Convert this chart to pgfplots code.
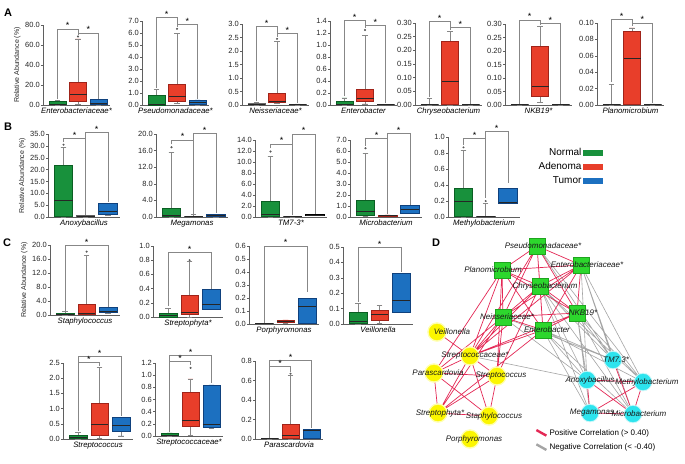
\documentclass[border=0pt]{standalone}
\usepackage{fontspec}
\setmainfont{Liberation Sans}
\usepackage{pgfplots}
\usepackage{pgfplotstable}
\pgfplotsset{compat=1.18}
\usepgfplotslibrary{statistics}
\definecolor{ng}{RGB}{24,145,60}
\definecolor{ngd}{RGB}{10,95,35}
\definecolor{ar}{RGB}{232,62,42}
\definecolor{ard}{RGB}{160,35,25}
\definecolor{bt}{RGB}{28,112,192}
\definecolor{btd}{RGB}{15,65,125}
\definecolor{axg}{RGB}{95,95,95}
\definecolor{wg}{RGB}{135,135,135}
\definecolor{ered}{RGB}{228,40,85}
\definecolor{egray}{RGB}{165,165,165}
\definecolor{sqg}{RGB}{45,215,45}
\definecolor{sqgd}{RGB}{30,165,30}
\definecolor{cyy}{RGB}{252,246,0}
\definecolor{cyyh}{RGB}{255,255,175}
\definecolor{cyc}{RGB}{45,228,238}
\definecolor{cych}{RGB}{200,248,250}

\pgfplotsset{
  panel/.style={scale only axis, anchor=south west, clip=false,
    axis x line=bottom, axis y line=left,
    axis line style={-, axg, line width=0.5pt},
    xmin=0.3, xmax=3.55, ymin=0, xtick=\empty,
    ytick style={axg, line width=0.4pt}, tick align=outside, major tick length=2pt,
    scaled y ticks=false,
    /pgf/number format/assume math mode=true,
    yticklabel style={font=\fontsize{7.5}{8}\selectfont, color=black!85, inner sep=1pt,
      /pgf/number format/.cd, fixed, fixed zerofill, precision=1},
    xlabel style={font=\fontsize{7.8}{9}\selectfont\itshape, at={(axis description cs:0.5,0)}, anchor=north, inner sep=1pt, yshift=-1.5pt},
    ylabel style={font=\fontsize{7}{8}\selectfont, color=black!85},
    boxplot/draw direction=y,
    boxplot/box extend=0.82, boxplot/whisker extend=0.25,
    boxplot/every median/.style={draw=black!85, line width=0.6pt},
    boxplot/every whisker/.style={draw=wg, line width=0.5pt},
  },
  ptwo/.style={yticklabel style={/pgf/number format/precision=2}},
  sN/.style={draw=ngd, fill=ng, line width=0.5pt},
  sA/.style={draw=ard, fill=ar, line width=0.5pt},
  sT/.style={draw=btd, fill=bt, line width=0.5pt},
  sZ/.style={draw=gray!75!black, fill=gray!60, line width=0.5pt},
  sK/.style={draw=black, fill=black, line width=0.5pt},
  br/.style={draw=wg, line width=0.5pt},
}
\newcommand{\bx}[7]{\addplot[#7, boxplot prepared={draw direction=y, draw position=#1, lower whisker=#2, lower quartile=#3, median=#4, upper quartile=#5, upper whisker=#6}] coordinates {};}
\newcommand{\outl}[2]{\addplot[only marks, mark=*, mark size=0.8pt, color=black!65] coordinates {(#1,#2)};}
\newcommand{\sig}[2]{\node[anchor=base, inner sep=0pt, font=\fontsize{9}{9}\selectfont] at (axis cs:#1,#2) {*};}

\pgfplotstableread{
x y
537 246
502 270
581 265
540 286
503 317
577 313
543 330
}\greennodes
\pgfplotstableread{
x y
437 332
470 356
434 373
497 376
438 413
489 416
470 439
}\yellownodes
\pgfplotstableread{
x y
613 360
587 380
643 382
590 413
633 414
}\cyannodes
\pgfplotstableread{
x y dx dy lab
537 246 6 0 Pseudomonadaceae*
502 270 -9 0 Planomicrobium
581 265 6 0 Enterobacteriaceae*
540 286 5 0 Chryseobacterium
503 317 4 0 Neisseriaceae*
577 313 6 0 NKB19*
543 330 4 0 Enterobacter
437 332 15 0 Veillonella
470 356 5 0 Streptococcaceae*
434 373 4 0 Parascardovia
497 376 4 0 Streptococcus
438 413 2 0 Streptophyta*
489 416 5 0 Staphylococcus
470 439 4 0 Porphyromonas
613 360 3 0 TM7.3*
587 380 3 0 Anoxybacillus
643 382 4 0 Methylobacterium
590 413 2 0 Megamonas
633 414 6 0 Microbacterium
}\netlabels

\begin{document}
\begin{tikzpicture}
\useasboundingbox (0,0) rectangle (685pt,-463pt);
\fill[white] (0,0) rectangle (685pt,-463pt);

\node[font=\bfseries\fontsize{11}{11}\selectfont] at (8pt,-13pt) {A};
\node[font=\bfseries\fontsize{11}{11}\selectfont] at (8pt,-127pt) {B};
\node[font=\bfseries\fontsize{11}{11}\selectfont] at (7pt,-243pt) {C};
\node[font=\bfseries\fontsize{11}{11}\selectfont] at (436pt,-243pt) {D};

% ---------------- Row A ----------------
\begin{axis}[panel, at={(43pt,-105pt)}, width=67pt, height=80pt, ymax=80, ytick={0,20,40,60,80},
  xlabel={Enterobacteriaceae*}, ylabel={Relative Abundance (\%)}]
\bx{1}{0}{0.3}{1.0}{3.3}{5.0}{sN}
\bx{2}{0.5}{3.3}{11}{22.5}{66}{sA}
\bx{3}{0}{0.5}{1.5}{6}{6}{sT}
\outl{2}{68.5}
\addplot[br] coordinates {(1,6) (1,76) (2,76) (2,69.5)};
\addplot[br] coordinates {(2,72) (3,72) (3,6.5)};
\sig{1.5}{76}\sig{2.5}{72}
\end{axis}

\begin{axis}[panel, at={(142pt,-105pt)}, width=67pt, height=84pt, ymax=7, ytick={0,1,2,3,4,5,6,7},
  xlabel={Pseudomonadaceae*}]
\bx{1}{0}{0.02}{0.1}{0.85}{1.28}{sN}
\bx{2}{0.15}{0.35}{0.75}{1.75}{6.0}{sA}
\bx{3}{0}{0.05}{0.2}{0.42}{0.42}{sT}
\outl{2}{6.35}
\addplot[br] coordinates {(1,1.45) (1,7.3) (2,7.3) (2,6.5)};
\addplot[br] coordinates {(2,6.75) (3,6.75) (3,0.5)};
\sig{1.5}{7.3}\sig{2.5}{6.75}
\end{axis}

\begin{axis}[panel, at={(242pt,-105pt)}, width=67pt, height=81pt, ymax=3, ytick={0,0.5,1,1.5,2,2.5,3},
  xlabel={Neisseriaceae*}]
\bx{1}{0}{0.02}{0.04}{0.06}{0.1}{sZ}
\bx{2}{0.08}{0.12}{0.15}{0.45}{2.35}{sA}
\bx{3}{0}{0.02}{0.03}{0.04}{0.04}{sZ}
\outl{2}{2.45}
\addplot[br] coordinates {(1,0.15) (1,2.9) (2,2.9) (2,2.5)};
\addplot[br] coordinates {(2,2.65) (3,2.65) (3,0.08)};
\sig{1.5}{2.9}\sig{2.5}{2.65}
\end{axis}

\begin{axis}[panel, at={(330pt,-105pt)}, width=67pt, height=84pt, ymax=1.4, ytick={0,0.2,0.4,0.6,0.8,1.0,1.2,1.4},
  xlabel={Enterobacter}]
\bx{1}{0}{0.005}{0.02}{0.056}{0.12}{sN}
\bx{2}{0.02}{0.07}{0.12}{0.26}{1.16}{sA}
\bx{3}{0}{0.003}{0.006}{0.01}{0.01}{sZ}
\outl{2}{1.25}
\addplot[br] coordinates {(1,0.15) (1,1.41) (2,1.41) (2,1.29)};
\addplot[br] coordinates {(2,1.33) (3,1.33) (3,0.03)};
\sig{1.5}{1.41}\sig{2.5}{1.33}
\end{axis}

\begin{axis}[panel, ptwo, at={(415pt,-105pt)}, width=67pt, height=82pt, ymax=0.3, ytick={0,0.05,0.1,0.15,0.2,0.25,0.3},
  xlabel={Chryseobacterium}]
\bx{1}{0}{0.001}{0.002}{0.003}{0.025}{sZ}
\bx{2}{0}{0.001}{0.085}{0.232}{0.268}{sA}
\bx{3}{0}{0.001}{0.002}{0.003}{0.003}{sZ}
\addplot[br] coordinates {(1,0.03) (1,0.307) (2,0.307) (2,0.275)};
\addplot[br] coordinates {(2,0.283) (3,0.283) (3,0.005)};
\sig{1.5}{0.307}\sig{2.5}{0.283}
\end{axis}

\begin{axis}[panel, ptwo, at={(505pt,-105pt)}, width=67pt, height=81pt, ymax=0.3, ytick={0,0.05,0.1,0.15,0.2,0.25,0.3},
  xlabel={NKB19*}]
\bx{1}{0}{0.001}{0.001}{0.002}{0.002}{sZ}
\bx{2}{0.01}{0.034}{0.069}{0.218}{0.29}{sA}
\bx{3}{0}{0.001}{0.001}{0.002}{0.002}{sZ}
\addplot[br] coordinates {(1,0.005) (1,0.315) (2,0.315) (2,0.297)};
\addplot[br] coordinates {(2,0.3025) (3,0.3025) (3,0.005)};
\sig{1.5}{0.315}\sig{2.5}{0.3025}
\end{axis}

\begin{axis}[panel, ptwo, at={(597pt,-105pt)}, width=67pt, height=82pt, ymax=0.1, ytick={0,0.02,0.04,0.06,0.08,0.1},
  xlabel={Planomicrobium}]
\bx{1}{0}{0.0005}{0.001}{0.0015}{0.0256}{sZ}
\bx{2}{0.001}{0.0015}{0.057}{0.09}{0.094}{sA}
\bx{3}{0}{0.0005}{0.001}{0.0015}{0.0015}{sZ}
\addplot[br] coordinates {(1,0.028) (1,0.1045) (2,0.1045) (2,0.096)};
\addplot[br] coordinates {(2,0.1) (3,0.1) (3,0.002)};
\sig{1.5}{0.1045}\sig{2.5}{0.1}
\end{axis}

% ---------------- Row B ----------------
\begin{axis}[panel, at={(48pt,-217pt)}, width=72pt, height=83pt, ymax=35, ytick={0,5,10,15,20,25,30,35},
  xlabel={Anoxybacillus}, ylabel={Relative Abundance (\%)}]
\bx{1}{0}{0.2}{7}{21.8}{29.5}{sN}
\bx{2}{0}{0.2}{0.4}{0.6}{0.6}{sZ}
\bx{3}{0.8}{1.2}{2.5}{5.8}{5.8}{sT}
\outl{1}{30.5}
\addplot[br] coordinates {(1,31.5) (1,33) (2,33)};
\addplot[br] coordinates {(2,0.8) (2,35.8) (3,35.8) (3,6.5)};
\sig{1.5}{33}\sig{2.5}{35.8}
\end{axis}

\begin{axis}[panel, at={(156pt,-217pt)}, width=72pt, height=83pt, ymax=20, ytick={0,4,8,12,16,20},
  xlabel={Megamonas}]
\bx{1}{0}{0.1}{0.3}{2.0}{15.5}{sN}
\bx{2}{0}{0.05}{0.1}{0.2}{0.6}{sZ}
\bx{3}{0}{0.1}{0.3}{0.7}{0.7}{sT}
\outl{1}{16.8}
\addplot[br] coordinates {(1,17.5) (1,18.6) (2,18.6)};
\addplot[br] coordinates {(2,0.7) (2,20.2) (3,20.2) (3,0.9)};
\sig{1.5}{18.6}\sig{2.5}{20.2}
\end{axis}

\begin{axis}[panel, at={(255pt,-217pt)}, width=72pt, height=77pt, ymax=14, ytick={0,2,4,6,8,10,12,14},
  xlabel={TM7-3*}]
\bx{1}{0}{0.1}{0.42}{2.8}{11.0}{sN}
\bx{2}{0}{0.05}{0.1}{0.15}{0.15}{sZ}
\bx{3}{0.3}{0.35}{0.4}{0.45}{0.45}{sK}
\outl{1}{11.9}
\addplot[br] coordinates {(1,12.5) (1,13.3) (2,13.3)};
\addplot[br] coordinates {(2,0.3) (2,15.1) (3,15.1) (3,0.6)};
\sig{1.5}{13.3}\sig{2.5}{15.1}
\end{axis}

\begin{axis}[panel, at={(350pt,-217pt)}, width=72pt, height=77pt, ymax=7, ytick={0,1,2,3,4,5,6,7},
  xlabel={Microbacterium}]
\bx{1}{0.05}{0.2}{0.54}{1.49}{5.8}{sN}
\bx{2}{0.05}{0.08}{0.12}{0.15}{0.2}{sA}
\bx{3}{0.3}{0.3}{0.74}{1.04}{1.04}{sT}
\outl{1}{6.25}
\addplot[br] coordinates {(1,6.5) (1,7.14) (2,7.14)};
\addplot[br] coordinates {(2,0.25) (2,7.6) (3,7.6) (3,1.1)};
\sig{1.5}{7.14}\sig{2.5}{7.6}
\end{axis}

\begin{axis}[panel, at={(448pt,-217pt)}, width=72pt, height=80pt, ymax=1, ytick={0,0.2,0.4,0.6,0.8,1.0},
  xlabel={Methylobacterium}]
\bx{1}{0}{0.01}{0.197}{0.36}{0.83}{sN}
\bx{2}{0}{0.003}{0.006}{0.01}{0.175}{sZ}
\bx{3}{0.17}{0.17}{0.185}{0.356}{0.356}{sT}
\outl{1}{0.87}\outl{2}{0.2}
\addplot[br] coordinates {(1,0.9) (1,0.98) (2,0.98)};
\addplot[br] coordinates {(2,0.24) (2,1.075) (3,1.075) (3,0.43)};
\sig{1.5}{0.98}\sig{2.5}{1.075}
\end{axis}

% legend of groups
\begin{axis}[hide axis, scale only axis, width=1pt, height=1pt, xmin=0, xmax=1, ymin=0, ymax=1,
  at={(603pt,-146pt)}, anchor=north east,
  legend style={draw=none, fill=none, at={(1,1)}, anchor=north east, inner sep=0pt,
    font=\fontsize{10}{11}\selectfont, row sep=1.3pt},
  legend plot pos=right, legend cell align=right,
  legend image code/.code={\fill[#1] (0pt,-2.6pt) rectangle (19pt,2.6pt);}]
\addlegendimage{color=ng}\addlegendentry{Normal}
\addlegendimage{color=ar}\addlegendentry{Adenoma}
\addlegendimage{color=bt}\addlegendentry{Tumor}
\end{axis}

% ---------------- Row C ----------------
\begin{axis}[panel, at={(50pt,-315pt)}, width=70pt, height=70pt, ymax=20, ytick={0,4,8,12,16,20},
  xlabel={Staphylococcus}, ylabel={Relative Abundance (\%)}]
\bx{1}{0}{0.1}{0.3}{0.5}{0.95}{sN}
\bx{2}{0.1}{0.3}{0.5}{3.1}{17.1}{sA}
\bx{3}{0.5}{0.7}{1.0}{2.2}{2.2}{sT}
\outl{2}{18.1}
\addplot[br] coordinates {(1,1.2) (1,20) (3,20) (3,2.4)};
\sig{2}{20}
\end{axis}

\begin{axis}[panel, at={(153pt,-317pt)}, width=70pt, height=71pt, ymax=1, ytick={0,0.2,0.4,0.6,0.8,1.0},
  xlabel={Streptophyta*}]
\bx{1}{0}{0}{0.02}{0.056}{0.126}{sN}
\bx{2}{0}{0.033}{0.06}{0.304}{0.78}{sA}
\bx{3}{0.103}{0.103}{0.173}{0.39}{0.39}{sT}
\outl{2}{0.8}
\addplot[br] coordinates {(1,0.16) (1,0.907) (3,0.907) (3,0.4)};
\sig{2}{0.907}
\end{axis}

\begin{axis}[panel, at={(249pt,-324pt)}, width=70pt, height=78pt, ymax=0.6, ytick={0,0.1,0.2,0.3,0.4,0.5,0.6},
  xlabel={Porphyromonas}]
\bx{1}{0}{0.001}{0.002}{0.003}{0.003}{sZ}
\bx{2}{0.005}{0.01}{0.02}{0.026}{0.031}{sA}
\bx{3}{0.005}{0.005}{0.133}{0.197}{0.197}{sT}
\addplot[br] coordinates {(1,0.008) (1,0.6) (3,0.6) (3,0.25)};
\sig{2}{0.6}
\end{axis}

\begin{axis}[panel, at={(343pt,-324pt)}, width=70pt, height=77pt, ymax=0.5, ytick={0,0.1,0.2,0.3,0.4,0.5},
  xlabel={Veillonella}]
\bx{1}{0}{0.005}{0.015}{0.075}{0.134}{sN}
\bx{2}{0.005}{0.026}{0.065}{0.09}{0.123}{sA}
\bx{3}{0.075}{0.075}{0.155}{0.328}{0.328}{sT}
\addplot[br] coordinates {(1,0.145) (1,0.5) (3,0.5) (3,0.34)};
\sig{2}{0.5}
\end{axis}

% ---------------- Row C (lower) ----------------
\begin{axis}[panel, at={(63pt,-439pt)}, width=70pt, height=76pt, ymax=2.5, ytick={0,0.5,1,1.5,2,2.5},
  xlabel={Streptococcus}]
\bx{1}{0}{0.01}{0.04}{0.11}{0.21}{sN}
\bx{2}{0.02}{0.13}{0.5}{1.16}{2.36}{sA}
\bx{3}{0.1}{0.26}{0.46}{0.7}{0.7}{sT}
\addplot[br] coordinates {(1,0.25) (1,2.72) (3,2.72) (3,0.75)};
\addplot[br] coordinates {(1,2.52) (2,2.52) (2,2.4)};
\sig{2}{2.72}\sig{1.5}{2.52}
\end{axis}

\begin{axis}[panel, at={(155pt,-436pt)}, width=68pt, height=73pt, ymax=1.2, ytick={0,0.2,0.4,0.6,0.8,1.0,1.2},
  xlabel={Streptococcaceae*}]
\bx{1}{0}{0.005}{0.01}{0.038}{0.05}{sN}
\bx{2}{0.01}{0.164}{0.257}{0.72}{0.94}{sA}
\bx{3}{0.12}{0.137}{0.186}{0.84}{0.84}{sT}
\outl{2}{1.12}
\addplot[br] coordinates {(1,0.06) (1,1.33) (3,1.33) (3,0.87)};
\addplot[br] coordinates {(1,1.23) (2,1.23) (2,1.16)};
\sig{2}{1.33}\sig{1.5}{1.23}
\end{axis}

\begin{axis}[panel, at={(255pt,-439pt)}, width=68pt, height=78pt, ymax=0.8, ytick={0,0.2,0.4,0.6,0.8},
  xlabel={Parascardovia}]
\bx{1}{0}{0.003}{0.005}{0.007}{0.007}{sZ}
\bx{2}{0}{0.01}{0.034}{0.153}{0.653}{sA}
\bx{3}{0.01}{0.01}{0.085}{0.099}{0.099}{sT}
\outl{2}{0.67}
\addplot[br] coordinates {(1,0.01) (1,0.81) (3,0.81) (3,0.11)};
\addplot[br] coordinates {(1,0.745) (2,0.745) (2,0.69)};
\sig{2}{0.81}\sig{1.5}{0.745}
\end{axis}

% ---------------- Panel D: network ----------------
\begin{axis}[scale only axis, anchor=south west, at={(420pt,-463pt)}, width=270pt, height=228pt,
  xmin=420, xmax=690, ymin=235, ymax=463, y dir=reverse, hide axis, clip=false]
\addplot[egray, line width=0.6pt, unbounded coords=jump] coordinates {
(581,265)(613,360)(nan,nan) (581,265)(643,382)(nan,nan) (581,265)(633,414)(nan,nan) (581,265)(587,380)(nan,nan)
(540,286)(613,360)(nan,nan) (540,286)(587,380)(nan,nan) (540,286)(643,382)(nan,nan) (540,286)(633,414)(nan,nan)
(540,286)(590,413)(nan,nan) (577,313)(613,360)(nan,nan) (577,313)(587,380)(nan,nan) (577,313)(643,382)(nan,nan)
(577,313)(590,413)(nan,nan) (577,313)(633,414)(nan,nan) (543,330)(613,360)(nan,nan) (543,330)(587,380)(nan,nan)
(543,330)(643,382)(nan,nan) (543,330)(590,413)(nan,nan) (543,330)(633,414)(nan,nan) (503,317)(613,360)(nan,nan)
(503,317)(587,380)(nan,nan) (537,246)(643,382)(nan,nan) (537,246)(613,360)(nan,nan) (470,356)(587,380)(nan,nan)
};
\addplot[ered, line width=0.7pt, unbounded coords=jump] coordinates {
(537,246)(502,270)(nan,nan) (537,246)(581,265)(nan,nan) (537,246)(540,286)(nan,nan) (537,246)(503,317)(nan,nan)
(537,246)(577,313)(nan,nan) (537,246)(543,330)(nan,nan) (502,270)(581,265)(nan,nan) (502,270)(540,286)(nan,nan)
(502,270)(503,317)(nan,nan) (502,270)(577,313)(nan,nan) (502,270)(543,330)(nan,nan) (581,265)(540,286)(nan,nan)
(581,265)(503,317)(nan,nan) (581,265)(577,313)(nan,nan) (581,265)(543,330)(nan,nan) (540,286)(503,317)(nan,nan)
(540,286)(577,313)(nan,nan) (540,286)(543,330)(nan,nan) (503,317)(577,313)(nan,nan) (503,317)(543,330)(nan,nan)
(577,313)(543,330)(nan,nan)
(502,270)(470,356)(nan,nan) (502,270)(497,376)(nan,nan) (502,270)(434,373)(nan,nan) (503,317)(470,356)(nan,nan)
(503,317)(497,376)(nan,nan) (503,317)(434,373)(nan,nan) (503,317)(438,413)(nan,nan) (540,286)(470,356)(nan,nan)
(540,286)(497,376)(nan,nan) (537,246)(470,356)(nan,nan) (581,265)(470,356)(nan,nan) (577,313)(470,356)(nan,nan)
(543,330)(438,413)(nan,nan) (543,330)(470,356)(nan,nan)
(437,332)(470,356)(nan,nan) (470,356)(434,373)(nan,nan) (470,356)(497,376)(nan,nan) (470,356)(438,413)(nan,nan)
(470,356)(489,416)(nan,nan) (434,373)(497,376)(nan,nan) (434,373)(438,413)(nan,nan) (434,373)(489,416)(nan,nan)
(497,376)(438,413)(nan,nan) (497,376)(489,416)(nan,nan) (438,413)(489,416)(nan,nan)
(587,380)(643,382)(nan,nan) (587,380)(590,413)(nan,nan) (587,380)(633,414)(nan,nan) (643,382)(590,413)(nan,nan)
(643,382)(633,414)(nan,nan) (590,413)(633,414)(nan,nan) (613,360)(633,414)(nan,nan)
};
\addplot[only marks, mark=*, mark size=9.5pt, color=cyyh] table[x=x,y=y] \yellownodes;
\addplot[only marks, mark=*, mark size=9pt, color=cych] table[x=x,y=y] \cyannodes;
\addplot[only marks, mark=square*, mark size=8pt, color=sqg, mark options={draw=sqgd, fill=sqg, line width=0.3pt}] table[x=x,y=y] \greennodes;
\addplot[only marks, mark=*, mark size=8pt, color=cyy] table[x=x,y=y] \yellownodes;
\addplot[only marks, mark=*, mark size=8pt, color=cyc] table[x=x,y=y] \cyannodes;
\addplot[draw=none, mark=none, nodes near coords, point meta=explicit symbolic,
  visualization depends on={\thisrow{dx}\as\dx},
  visualization depends on={\thisrow{dy}\as\dy},
  every node near coord/.append style={anchor=center, xshift=\dx pt, yshift=\dy pt,
    font=\fontsize{8}{8}\selectfont\itshape, text=black!90, inner sep=0pt}]
  table[x=x,y=y,meta=lab] \netlabels;
\end{axis}

% legend of network
\begin{axis}[hide axis, scale only axis, width=1pt, height=1pt, xmin=0, xmax=1, ymin=0, ymax=1,
  at={(535pt,-427pt)}, anchor=north west,
  legend style={draw=none, fill=none, at={(0,1)}, anchor=north west, inner sep=0pt,
    font=\fontsize{8}{9}\selectfont, row sep=3pt},
  legend cell align=left,
  legend image code/.code={\draw[#1, line width=2.4pt] (0pt,2.8pt) -- (10pt,-2.8pt);}]
\addlegendimage{color=ered}\addlegendentry{Positive Correlation (> 0.40)}
\addlegendimage{color=egray}\addlegendentry{Negative Correlation (< -0.40)}
\end{axis}
\end{tikzpicture}
\end{document}
